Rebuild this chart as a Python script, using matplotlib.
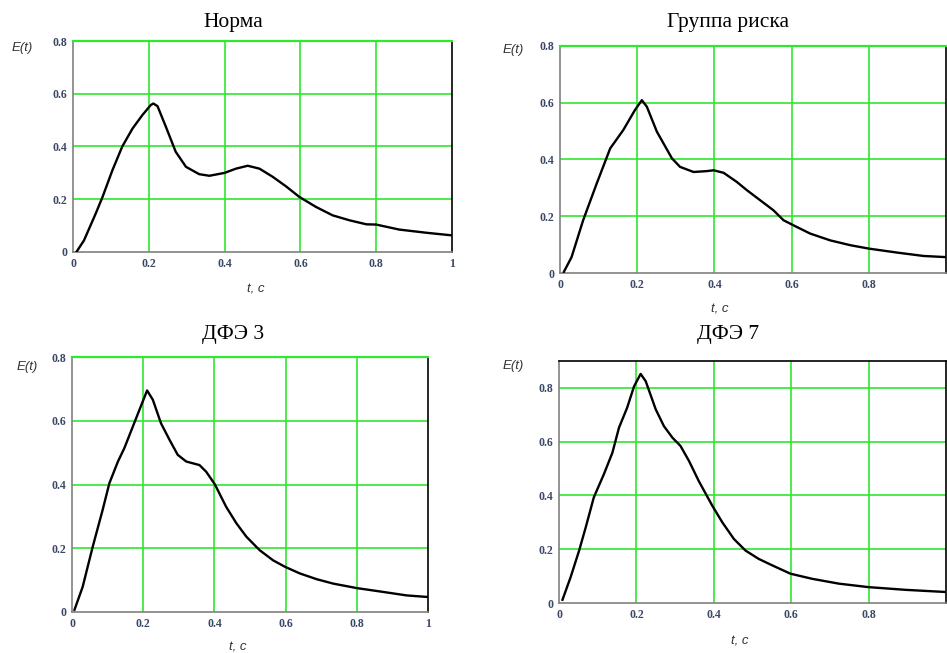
import matplotlib
matplotlib.use("Agg")
import matplotlib.pyplot as plt

# --- data ---
titles = ["Норма", "Группа риска", "ДФЭ 3", "ДФЭ 7"]

t_norm = [0.009, 0.029, 0.06, 0.078, 0.104, 0.13, 0.157, 0.183, 0.205, 0.212, 0.223, 0.245,
          0.271, 0.298, 0.333, 0.36, 0.4, 0.43, 0.461, 0.492, 0.527, 0.562, 0.597, 0.641,
          0.685, 0.73, 0.774, 0.8, 0.861, 0.932, 1.0]
e_norm = [0.0, 0.044, 0.146, 0.209, 0.31, 0.40, 0.468, 0.519, 0.557, 0.563, 0.553, 0.475,
          0.38, 0.323, 0.295, 0.289, 0.30, 0.316, 0.327, 0.316, 0.285, 0.249, 0.209, 0.171,
          0.139, 0.12, 0.105, 0.104, 0.085, 0.073, 0.063]

t_risk = [0.01, 0.03, 0.06, 0.095, 0.13, 0.164, 0.194, 0.212, 0.225, 0.251, 0.29, 0.311,
          0.346, 0.38, 0.398, 0.424, 0.458, 0.484, 0.519, 0.553, 0.579, 0.605, 0.648, 0.70,
          0.752, 0.8, 0.873, 0.942, 1.0]
e_risk = [0.004, 0.056, 0.186, 0.315, 0.439, 0.504, 0.574, 0.609, 0.586, 0.498, 0.404, 0.374,
          0.356, 0.359, 0.362, 0.353, 0.321, 0.292, 0.256, 0.221, 0.186, 0.168, 0.139, 0.115,
          0.098, 0.086, 0.072, 0.06, 0.056]

t_dfe3 = [0.007, 0.03, 0.058, 0.086, 0.105, 0.129, 0.147, 0.171, 0.195, 0.211, 0.227, 0.25,
          0.274, 0.297, 0.321, 0.358, 0.377, 0.401, 0.433, 0.462, 0.49, 0.527, 0.565, 0.598,
          0.64, 0.687, 0.734, 0.8, 0.874, 0.94, 1.0]
e_dfe3 = [0.007, 0.079, 0.204, 0.32, 0.404, 0.472, 0.514, 0.582, 0.65, 0.695, 0.666, 0.592,
          0.54, 0.493, 0.472, 0.461, 0.44, 0.401, 0.33, 0.278, 0.236, 0.194, 0.162, 0.142,
          0.121, 0.103, 0.089, 0.075, 0.063, 0.052, 0.047]

t_dfe7 = [0.009, 0.03, 0.052, 0.069, 0.09, 0.116, 0.138, 0.155, 0.176, 0.194, 0.211, 0.224,
          0.25, 0.271, 0.293, 0.314, 0.336, 0.361, 0.396, 0.422, 0.452, 0.482, 0.516, 0.551,
          0.598, 0.654, 0.723, 0.8, 0.895, 0.998]
e_dfe7 = [0.012, 0.096, 0.195, 0.281, 0.393, 0.479, 0.559, 0.652, 0.726, 0.806, 0.852, 0.825,
          0.72, 0.658, 0.615, 0.584, 0.528, 0.454, 0.362, 0.30, 0.238, 0.195, 0.164, 0.14,
          0.109, 0.09, 0.072, 0.059, 0.049, 0.041]

x_ticks = [0, 0.2, 0.4, 0.6, 0.8, 1]
x_labels = ["0", "0.2", "0.4", "0.6", "0.8", "1"]
y_ticks = [0, 0.2, 0.4, 0.6, 0.8]
y_labels = ["0", "0.2", "0.4", "0.6", "0.8"]

W, H = 947, 653
GREEN = "#2fe82f"

fig = plt.figure(figsize=(W / 100, H / 100), dpi=100)


def px_axes(left, top, right, bottom):
    return fig.add_axes([left / W, 1 - bottom / H, (right - left) / W, (bottom - top) / H])


def draw(ax, t, e, ymax, xt, xl, top_green):
    ax.set_xlim(0, 1)
    ax.set_ylim(0, ymax)
    for v in [0.2, 0.4, 0.6, 0.8]:
        ax.axvline(v, color=GREEN, lw=1.2, zorder=1)
    for v in [0.2, 0.4, 0.6, 0.8]:
        if v < ymax - 1e-6:
            ax.axhline(v, color=GREEN, lw=1.2, zorder=1)
    ax.plot(t, e, color="black", lw=1.7, zorder=3)
    ax.set_xticks(xt)
    ax.set_xticklabels(xl)
    ax.set_yticks(y_ticks)
    ax.set_yticklabels(y_labels)
    ax.tick_params(length=0, pad=4, labelsize=8.5, labelcolor="#3a4866")
    for lab in ax.get_xticklabels() + ax.get_yticklabels():
        lab.set_fontfamily("Liberation Serif")
        lab.set_fontweight("bold")
    ax.spines["left"].set_color("#808080")
    ax.spines["bottom"].set_color("#808080")
    ax.spines["right"].set_color("black")
    ax.spines["top"].set_color("black")
    for s in ax.spines.values():
        s.set_linewidth(1.2)
    if top_green:
        ax.spines["top"].set_color(GREEN)
        ax.spines["top"].set_linewidth(1.6)


def label(x, y, s, **kw):
    fig.text(x / W, 1 - y / H, s, ha="center", va="center", **kw)


ax1 = px_axes(73, 41, 452, 252)
draw(ax1, t_norm, e_norm, 0.8, x_ticks, x_labels, True)
ax2 = px_axes(560, 46, 946, 273)
draw(ax2, t_risk, e_risk, 0.8, x_ticks[:-1], x_labels[:-1], True)
ax3 = px_axes(72, 357, 428, 612)
draw(ax3, t_dfe3, e_dfe3, 0.8, x_ticks, x_labels, True)
ax4 = px_axes(559, 361, 946, 603)
draw(ax4, t_dfe7, e_dfe7, 0.9, x_ticks[:-1], x_labels[:-1], False)

title_kw = dict(fontfamily="Liberation Serif", fontsize=15.5, color="black")
label(233, 22, titles[0], **title_kw)
label(728, 22, titles[1], **title_kw)
label(233, 335, titles[2], **title_kw)
label(728, 335, titles[3], **title_kw)

lab_kw = dict(fontfamily="Liberation Sans", fontstyle="italic", fontsize=9.5, color="#333333")
for x, y in [(22, 48), (513, 50), (27, 367), (513, 366)]:
    label(x, y, "E(t)", **lab_kw)
for x, y in [(256, 290), (720, 309), (238, 647), (740, 642)]:
    label(x, y, "t, c", **lab_kw)

fig.savefig("out.png", dpi=100)
